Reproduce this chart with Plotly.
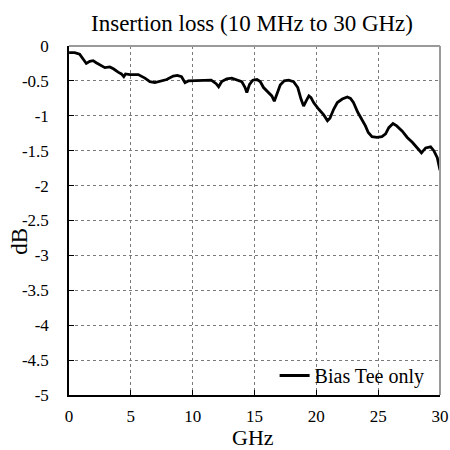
import plotly.graph_objects as go

freq_ghz = [0.01, 0.46, 0.86, 1.19, 1.4, 1.68, 1.95, 2.2, 2.5, 2.9, 3.3, 3.62, 3.97, 4.24, 4.43, 4.57,
            4.92, 5.6, 6.14, 6.54, 6.95, 7.35, 7.9, 8.43, 8.76, 9.1, 9.38, 9.65, 10.05, 10.6, 11.1,
            11.5, 11.9, 12.1, 12.35, 12.76, 13.16, 13.57, 13.97, 14.24, 14.38, 14.6, 14.86, 15.2,
            15.46, 15.73, 16.13, 16.4, 16.6, 16.8, 17.08, 17.4, 17.76, 18.16, 18.5, 18.76, 18.97,
            19.2, 19.4, 19.57, 19.78, 20.2, 20.6, 20.9, 21.1, 21.4, 21.7, 22.1, 22.5, 22.76, 23.0,
            23.35, 23.7, 23.97, 24.2, 24.5, 24.9, 25.3, 25.6, 25.86, 26.2, 26.5, 26.95, 27.35,
            27.76, 28.16, 28.5, 28.84, 29.24, 29.5, 29.78, 30.0]
loss_db = [-0.094, -0.094, -0.118, -0.19, -0.25, -0.22, -0.21, -0.24, -0.275, -0.31, -0.30, -0.33,
           -0.375, -0.40, -0.44, -0.40, -0.41, -0.41, -0.46, -0.51, -0.525, -0.51, -0.48, -0.43,
           -0.42, -0.44, -0.525, -0.50, -0.50, -0.49, -0.50, -0.49, -0.54, -0.585, -0.51, -0.47,
           -0.46, -0.48, -0.51, -0.595, -0.667, -0.55, -0.49, -0.48, -0.51, -0.595, -0.667,
           -0.715, -0.79, -0.70, -0.56, -0.50, -0.49, -0.51, -0.595, -0.76, -0.86, -0.78, -0.715,
           -0.74, -0.81, -0.906, -0.987, -1.07, -1.035, -0.906, -0.81, -0.76, -0.73, -0.75, -0.81,
           -0.95, -1.05, -1.145, -1.24, -1.30, -1.31, -1.30, -1.26, -1.17, -1.11, -1.145, -1.22,
           -1.31, -1.38, -1.46, -1.53, -1.46, -1.445, -1.50, -1.60, -1.78]

x_ticks = [0, 5, 10, 15, 20, 25, 30]
y_ticks = [0, -0.5, -1, -1.5, -2, -2.5, -3, -3.5, -4, -4.5, -5]
y_tick_labels = ["0", "-0.5", "-1", "-1.5", "-2", "-2.5", "-3", "-3.5", "-4", "-4.5", "-5"]

font_family = "Liberation Serif, Times New Roman, serif"

fig = go.Figure()
fig.add_trace(go.Scatter(x=freq_ghz, y=loss_db, mode="lines", name="Bias Tee only",
                         line=dict(color="black", width=2.8)))

fig.update_layout(
    width=450, height=450,
    margin=dict(l=69, r=10, t=46, b=55, autoexpand=False),
    paper_bgcolor="white", plot_bgcolor="white",
    font=dict(family=font_family, color="black", size=17),
    title=dict(text="Insertion loss (10 MHz to 30 GHz)", x=0.56, xanchor="center",
               y=0.949, yanchor="middle", font=dict(size=23, family=font_family, color="black")),
    showlegend=True,
    legend=dict(x=0.972, y=0.0, xanchor="right", yanchor="bottom", bgcolor="rgba(0,0,0,0)",
                font=dict(size=20, family=font_family), borderwidth=0),
    xaxis=dict(range=[0, 30], tickvals=x_ticks, ticks="inside", ticklen=5, tickcolor="black",
               showline=True, linecolor="black", linewidth=1.5, showgrid=True,
               gridcolor="#7a7a7a", gridwidth=1, griddash="dot", zeroline=False,
               automargin=False,
               tickfont=dict(size=17), ticklabelstandoff=5),
    yaxis=dict(range=[-5, 0], tickvals=y_ticks, ticktext=y_tick_labels, ticks="inside",
               ticklen=5, tickcolor="black", showline=True, linecolor="black", linewidth=1.5,
               showgrid=True, gridcolor="#7a7a7a", gridwidth=1, griddash="dot",
               zeroline=False, automargin=False,
               tickfont=dict(size=17), ticklabelstandoff=15),
    annotations=[
        dict(text="dB", xref="paper", yref="paper", x=-0.134, y=0.44, textangle=-90,
             showarrow=False, xanchor="center", yanchor="middle",
             font=dict(size=23, family=font_family, color="black")),
        dict(text="GHz", xref="paper", yref="paper", x=0.496, y=-0.122,
             showarrow=False, xanchor="center", yanchor="middle",
             font=dict(size=22, family=font_family, color="black")),
    ],
    shapes=[
        dict(type="line", xref="paper", yref="paper", x0=0, x1=1, y0=1, y1=1,
             line=dict(color="#9a9a9a", width=2)),
        dict(type="line", xref="paper", yref="paper", x0=1, x1=1, y0=0, y1=1,
             line=dict(color="#9a9a9a", width=2)),
    ],
)

fig.write_html("out.html", config={"displayModeBar": False},
               post_script="document.body.style.margin='0';")
